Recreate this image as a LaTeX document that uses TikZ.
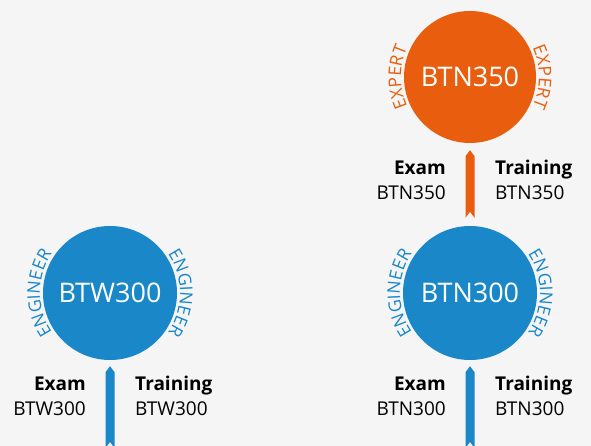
\documentclass[tikz,border=0pt]{standalone}
\usepackage{fontspec}
\setmainfont{Open Sans}
\usetikzlibrary{shapes, arrows, calc, decorations.text}
\definecolor{ballblue}{HTML}{1A87C9}
\definecolor{ballorange}{HTML}{E85E0E}
\definecolor{paper}{HTML}{F5F5F5}
\tikzstyle{blueball} = [circle, fill=ballblue, minimum size=134pt, inner sep=0pt, text=white,
font=\fontsize{27}{27}\selectfont]
\tikzstyle{orangeball} = [blueball, fill=ballorange, minimum size=132pt]
\tikzstyle{examtext} = [anchor=east, align=right, inner sep=0pt, font=\fontsize{19}{25}\selectfont]
\tikzstyle{traintext} = [examtext, anchor=west, align=left]
\newcommand{\ringfont}{\fontsize{17.5}{17.5}\selectfont}
% ring word: node, colour, word, radius
\newcommand{\ringtext}[4]{
    \path[decorate, decoration={text along path, text align=center, text color=#2, text={|\ringfont|#3}}]
    ([shift={(215:#4)}]#1.center) arc[start angle=215, end angle=145, radius=#4];
    \path[decorate, decoration={text along path, text align=center, text color=#2, text={|\ringfont|#3}}]
    ([shift={(35:#4)}]#1.center) arc[start angle=35, end angle=-35, radius=#4];
}
% pointed bar: colour, tip, foot
\newcommand{\chevbar}[3]{
    \fill[#1] (#2) -- ++(4.5,-6) -- ($(#3)+(4.5,0)$) -- ($(#3)+(0,6)$) -- ($(#3)+(-4.5,0)$)
    -- ($(#2)+(-4.5,-6)$) -- cycle;
}

\begin{document}
\begin{tikzpicture}[x=1pt, y=1pt]
    \useasboundingbox (0,0) rectangle (591,446);
    \fill[paper] (0,0) rectangle (591,446);

    \node (btn300) [blueball] at (470,153) {BTN300};
    \node (btn350) [orangeball, node distance=216pt, above of=btn300] {BTN350};
    \node (btw300) [blueball, node distance=360pt, left of=btn300] {BTW300};

    \ringtext{btn350}{ballorange}{EXPERT}{69}
    \ringtext{btn300}{ballblue}{ENGINEER}{70}
    \ringtext{btw300}{ballblue}{ENGINEER}{70}

    \coordinate (btntip) at ([yshift=-7pt]btn350.south);
    \coordinate (btnfoot) at ([yshift=8pt]btn300.north);
    \coordinate (btnlow) at ([yshift=-6pt]btn300.south);
    \coordinate (btnend) at (btn300 |- 0,-2);
    \coordinate (btwlow) at ([yshift=-6pt]btw300.south);
    \coordinate (btwend) at (btw300 |- 0,-2);

    \chevbar{ballorange}{btntip}{btnfoot}
    \chevbar{ballblue}{btnlow}{btnend}
    \chevbar{ballblue}{btwlow}{btwend}

    \node (upexam) [examtext] at ([xshift=-24pt, yshift=-37pt]btn350.south) {\textbf{Exam}\\BTN350};
    \node (uptrain) [traintext] at ([xshift=25pt, yshift=-37pt]btn350.south) {\textbf{Training}\\BTN350};
    \node (btnexam) [examtext] at ([xshift=-24pt, yshift=-36pt]btn300.south) {\textbf{Exam}\\BTN300};
    \node (btntrain) [traintext] at ([xshift=25pt, yshift=-36pt]btn300.south) {\textbf{Training}\\BTN300};
    \node (btwexam) [examtext] at ([xshift=-24pt, yshift=-36pt]btw300.south) {\textbf{Exam}\\BTW300};
    \node (btwtrain) [traintext] at ([xshift=25pt, yshift=-36pt]btw300.south) {\textbf{Training}\\BTW300};

\end{tikzpicture}
\end{document}
